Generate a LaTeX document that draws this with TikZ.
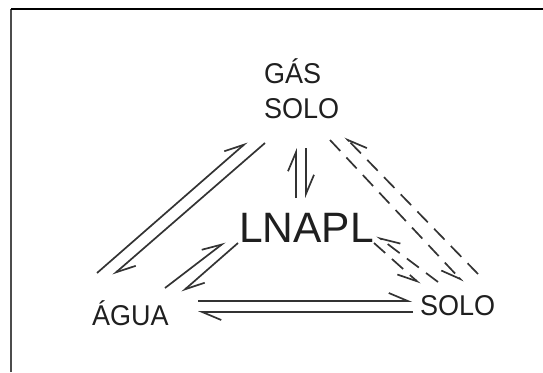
\documentclass[tikz,border=0pt]{standalone}
\usepackage{fontspec}
\setmainfont{Liberation Sans}
\usetikzlibrary{arrows.meta}
\begin{document}
\begin{tikzpicture}[x=1pt,y=-1pt,
  lbl/.style={inner sep=0pt, anchor=base west, text=black!88, font=\fontsize{27}{32}\selectfont},
  big/.style={inner sep=0pt, anchor=base west, text=black!88, font=\fontsize{42.5}{48}\selectfont},
  solidh/.style={draw=black!80, line width=1.7pt, -{Straight Barb[left,length=19pt,width=16pt]}},
  dashh/.style={draw=black!80, line width=1.7pt, dash pattern=on 15pt off 9pt, -{Straight Barb[right,length=19pt,width=16pt]}},
  frame/.style={draw=black!70, line width=2pt}
]
\useasboundingbox (0,0) rectangle (543,372);
% frame
\coordinate (fl) at (11,372);
\coordinate (fc) at (11,9);
\coordinate (fr) at (543,9);
\draw[frame] (fl) -- (fc);
\draw[black, line width=1.5pt] (fc) -- (fr);

% labels
\node[lbl] (gas) at (264,83) {\scalebox{1}[1.06]{GÁS}};
\node[lbl] (solotop) at (264,118) {\scalebox{1}[1.06]{SOLO}};
\node[big] (lnapl) at (239,242) {LNAPL};
\node[lbl] (agua) at (92,325) {\scalebox{1}[1.06]{ÁGUA}};
\node[lbl] (solo) at (420,315) {\scalebox{1}[1.06]{SOLO}};

% endpoints
\coordinate (a1s) at (97,273);  \coordinate (a1e) at (247,142);
\coordinate (a2s) at (265,143); \coordinate (a2e) at (113,275);
\coordinate (b1s) at (165,288); \coordinate (b1e) at (225,242);
\coordinate (b2s) at (238,243); \coordinate (b2e) at (182,292);
\coordinate (v1s) at (296,198); \coordinate (v1e) at (296,148);
\coordinate (v2s) at (306,148); \coordinate (v2e) at (306,198);
\coordinate (h1s) at (198,301); \coordinate (h1e) at (412,301);
\coordinate (h2s) at (413,312); \coordinate (h2e) at (198,312);
\coordinate (d1s) at (330,140); \coordinate (d1e) at (463,282);
\coordinate (d2s) at (478,274); \coordinate (d2e) at (345,137);
\coordinate (d3s) at (438,282); \coordinate (d3e) at (377,236);
\coordinate (d4s) at (374,243); \coordinate (d4e) at (420,284);

% solid harpoons
\draw[solidh] (a1s) -- (a1e);
\draw[solidh] (a2s) -- (a2e);
\draw[solidh] (b1s) -- (b1e);
\draw[solidh] (b2s) -- (b2e);
\draw[solidh] (v1s) -- (v1e);
\draw[solidh] (v2s) -- (v2e);
\draw[solidh] (h1s) -- (h1e);
\draw[solidh] (h2s) -- (h2e);
% dashed harpoons
\draw[dashh] (d1s) -- (d1e);
\draw[dashh] (d2s) -- (d2e);
\draw[dashh] (d3s) -- (d3e);
\draw[dashh] (d4s) -- (d4e);
\end{tikzpicture}
\end{document}
